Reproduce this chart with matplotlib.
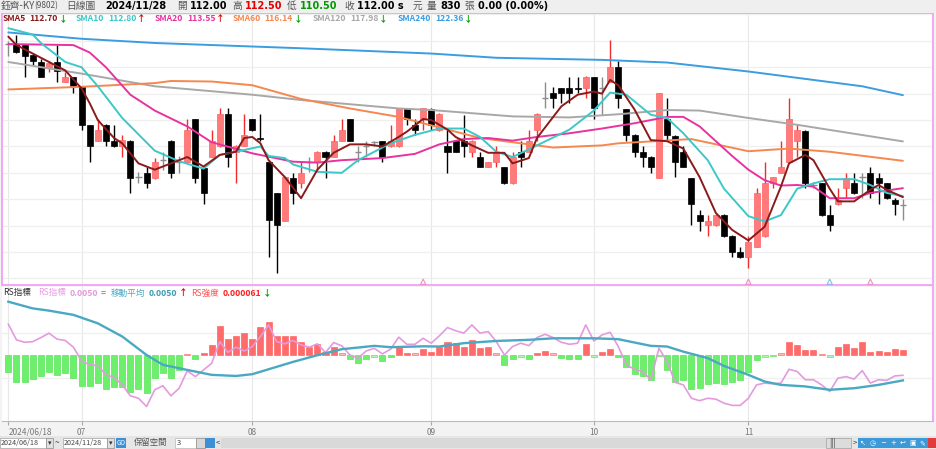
import numpy as np
import matplotlib
matplotlib.use('Agg')
import matplotlib.pyplot as plt
from matplotlib.patches import Rectangle

plt.rcParams['font.family'] = ['Noto Sans CJK TC', 'DejaVu Sans']
LATIN = ['DejaVu Sans', 'Noto Sans CJK TC']

W, H = 936, 449

# trading-day index of each month start
tick_idx = [0, 9, 30, 52, 72, 91]
tick_labels = ['2024/06/18', '07', '08', '09', '10', '11']

opens = [127.17, 127.17, 127.11, 126.16, 125.53, 124.90, 125.53, 123.57, 124.05, 123.16,
         119.54, 118.05, 119.54, 118.05, 117.55, 118.05, 114.64, 115.02, 114.49, 116.22,
         118.05, 116.06, 116.06, 120.07, 115.43, 116.54, 117.55, 120.58, 117.01, 117.55,
         120.07, 118.27, 116.06, 113.07, 110.48, 114.49, 114.01, 116.06, 116.06, 117.01,
         116.54, 118.05, 120.07, 117.01, 117.55, 117.96, 117.99, 117.55, 117.55, 121.11,
         119.54, 120.07, 121.02, 119.06, 117.55, 118.05, 118.05, 117.01, 116.54, 115.59,
         116.06, 115.59, 114.01, 117.01, 117.01, 119.06, 122.06, 122.60, 123.07, 123.07,
         123.00, 123.00, 124.11, 123.07, 123.64, 125.06, 121.02, 118.59, 117.01, 116.54,
         114.49, 120.07, 118.53, 117.01, 114.49, 111.02, 110.07, 110.07, 111.02, 109.03,
         107.54, 107.00, 108.01, 109.03, 114.01, 115.02, 116.06, 118.05, 119.00, 113.85,
         114.01, 111.02, 112.06, 113.54, 114.01, 114.58, 115.02, 114.49, 114.01, 112.44,
         112.00]
highs = [127.52, 128.06, 127.17, 126.32, 125.75, 125.63, 127.11, 124.59, 124.11, 123.23,
         119.54, 120.07, 119.60, 119.54, 118.59, 118.12, 115.12, 115.59, 116.38, 117.01,
         118.12, 116.60, 120.07, 120.07, 115.43, 119.06, 121.11, 121.11, 117.61, 120.58,
         120.14, 120.58, 116.06, 113.07, 114.58, 115.02, 116.06, 116.54, 117.07, 117.07,
         118.59, 120.07, 120.07, 117.55, 118.05, 118.05, 118.05, 119.54, 121.11, 121.11,
         120.07, 121.11, 121.11, 120.64, 119.06, 118.05, 120.48, 118.12, 117.01, 116.06,
         117.55, 115.59, 117.01, 118.05, 119.06, 120.64, 123.64, 123.16, 123.07, 124.11,
         124.11, 124.18, 124.11, 124.11, 127.59, 125.63, 121.08, 118.65, 117.55, 116.60,
         122.60, 122.06, 118.59, 117.55, 114.49, 111.49, 111.02, 111.08, 111.08, 109.09,
         108.01, 109.03, 113.54, 116.06, 114.64, 118.05, 122.06, 119.54, 119.06, 114.17,
         114.01, 111.96, 113.54, 115.02, 115.02, 115.02, 115.59, 115.02, 114.01, 112.59,
         112.50]
lows = [126.07, 126.32, 124.11, 125.22, 124.05, 124.59, 123.57, 123.57, 122.60, 119.06,
        116.06, 118.05, 117.55, 117.49, 116.54, 113.07, 114.01, 113.54, 114.42, 115.27,
        114.49, 115.02, 116.06, 114.01, 112.06, 116.48, 117.49, 115.59, 114.01, 117.55,
        119.00, 118.05, 107.00, 105.48, 110.48, 112.06, 113.54, 115.12, 115.12, 114.49,
        116.48, 118.05, 117.99, 116.06, 116.54, 117.55, 116.06, 117.49, 117.49, 119.54,
        118.59, 119.06, 119.06, 119.00, 115.02, 116.95, 116.54, 116.54, 115.53, 115.53,
        115.59, 113.95, 113.95, 115.59, 116.95, 118.05, 121.11, 121.11, 121.59, 121.59,
        122.53, 122.06, 120.07, 120.48, 123.57, 121.11, 118.05, 116.54, 115.59, 115.02,
        114.49, 118.05, 114.58, 115.53, 110.07, 109.53, 109.03, 110.01, 108.96, 107.00,
        106.94, 105.96, 107.95, 108.96, 113.54, 114.96, 116.00, 116.54, 113.54, 113.54,
        110.95, 109.53, 111.96, 112.59, 113.00, 112.59, 112.59, 112.06, 112.53, 111.02,
        110.50]
closes = [127.17, 126.42, 126.07, 125.60, 124.11, 125.44, 124.68, 124.11, 123.26, 119.54,
          117.55, 119.06, 118.05, 117.55, 118.12, 114.49, 114.64, 114.01, 116.06, 116.22,
          115.02, 116.06, 119.06, 114.49, 113.07, 118.05, 120.58, 116.54, 117.55, 118.59,
          119.06, 118.21, 110.54, 110.07, 114.58, 113.07, 115.02, 116.06, 117.01, 116.54,
          118.05, 119.06, 118.05, 117.01, 117.55, 117.96, 116.54, 118.05, 121.11, 120.07,
          119.06, 121.11, 119.54, 120.58, 117.01, 117.01, 117.55, 118.05, 115.59, 116.06,
          117.01, 114.01, 116.54, 116.54, 118.05, 120.58, 122.06, 122.06, 122.60, 122.60,
          122.94, 124.11, 121.11, 123.07, 125.06, 122.06, 118.59, 117.01, 116.54, 115.59,
          122.60, 118.59, 116.06, 115.59, 112.06, 110.48, 110.48, 111.02, 109.03, 107.54,
          107.00, 108.49, 113.07, 114.01, 114.58, 115.59, 120.07, 119.06, 114.01, 113.85,
          111.02, 110.07, 112.44, 114.49, 113.07, 114.58, 113.07, 114.01, 112.59, 112.06,
          112.00]

# moving averages (candle index, price)
sma5_idx = [0, 1, 3, 5, 7, 9, 10, 11, 13, 14, 16, 18, 21, 22, 24, 26, 28, 29, 30, 31,
            32, 34, 36, 38, 40, 42, 44, 46, 48, 49, 51, 52, 54, 55, 57, 59, 61, 62, 64, 65,
            68, 70, 72, 73, 74, 75, 77, 79, 81, 83, 85, 87, 89, 91, 93, 95, 96, 98, 99, 101,
            102, 104, 106, 107, 108, 110]
sma5 = [127.9, 127.1, 126.3, 125.5, 124.7, 123.0, 121.6, 120.0, 118.3, 117.8,
        115.9, 115.3, 116.2, 116.5, 115.6, 116.7, 117.0, 118.3, 118.4, 117.8,
        116.2, 114.6, 112.6, 115.3, 116.9, 117.7, 117.7, 117.5, 118.4, 118.9,
        120.1, 120.0, 119.1, 118.4, 117.6, 116.9, 116.9, 115.9, 116.4, 118.3,
        121.3, 122.4, 122.7, 122.5, 123.8, 123.3, 121.0, 118.1, 118.0, 117.3,
        114.6, 111.2, 109.6, 108.6, 109.9, 113.7, 115.9, 116.7, 116.2, 113.5,
        112.3, 112.3, 113.4, 113.85, 113.4, 112.7]
sma10_idx = [0, 3, 4, 7, 9, 11, 14, 18, 21, 24, 26, 28, 31, 32, 34, 35, 38, 41, 43, 45,
             47, 50, 53, 56, 58, 60, 62, 65, 69, 72, 74, 76, 79, 81, 83, 86, 88, 91, 93, 95,
             97, 99, 101, 104, 106, 108, 110]
sma10 = [128.7, 128.1, 127.3, 125.5, 125.0, 123.2, 120.2, 117.1, 116.1, 115.4,
         116.7, 117.0, 117.5, 116.6, 116.4, 115.8, 115.1, 115.0, 116.2, 117.0,
         117.8, 118.6, 119.2, 119.2, 118.4, 117.0, 116.5, 117.6, 119.1, 120.9,
         122.6, 122.4, 120.5, 120.2, 118.75, 116.2, 113.5, 110.9, 110.4, 111.0,
         113.5, 114.0, 114.4, 114.4, 113.85, 113.1, 112.8]
sma20_idx = [0, 8, 10, 12, 15, 18, 22, 25, 30, 35, 38, 41, 46, 50, 53, 56, 59, 62, 65, 69,
             73, 77, 81, 83, 85, 87, 89, 91, 93, 95, 97, 99, 101, 104, 106, 110]
sma20 = [127.2, 127.1, 126.4, 125.0, 122.4, 120.9, 119.4, 117.9, 116.85, 116.06,
         115.97, 116.2, 116.4, 116.8, 117.7, 118.2, 118.3, 118.05, 118.4, 118.75,
         119.2, 119.7, 120.3, 120.3, 119.4, 118.0, 116.6, 115.3, 114.3, 113.8,
         113.85, 113.7, 112.6, 112.6, 113.1, 113.55]
sma60_idx = [0, 9, 18, 20, 25, 30, 36, 38, 42, 48, 54, 58, 63, 67, 73, 75, 84, 91, 96, 101, 110]
sma60 = [122.9, 123.15, 123.5, 123.7, 123.65, 123.3, 122.0, 121.7, 121.1, 120.3, 119.1,
         118.3, 117.8, 117.4, 117.6, 117.8, 118.2, 117.05, 117.3, 117.0, 116.14]
sma120_idx = [0, 9, 18, 30, 36, 48, 52, 62, 69, 75, 81, 85, 91, 97, 110]
sma120 = [125.5, 124.4, 123.2, 122.4, 121.9, 121.1, 120.95, 120.35, 120.25, 120.55,
          120.95, 120.9, 120.2, 119.55, 117.98]
sma240_idx = [0, 9, 18, 36, 52, 60, 73, 81, 91, 97, 105, 110]
sma240 = [128.3, 127.7, 127.3, 126.8, 126.3, 125.9, 125.7, 125.45, 124.6, 124.0, 123.2, 122.36]

ma_names = ['SMA5', 'SMA10', 'SMA20', 'SMA60', 'SMA120', 'SMA240']
ma_last = ['112.70', '112.80', '113.55', '116.14', '117.98', '122.36']
ma_up = [False, True, True, False, False, False]
ma_colors = ['#8b1a1a', '#3cc8c8', '#e8339f', '#f5874f', '#a8a8a8', '#3b9de0']

# lower panel (arbitrary units, gridlines at +-1)
rs_line = [1.39, 0.69, 0.58, 0.61, 0.79, 0.99, 0.72, 0.66, 0.36, -0.25,
           -0.43, -0.46, -0.88, -0.99, -1.33, -1.82, -1.93, -2.30, -1.55, -1.37,
           -1.82, -1.48, -0.70, -0.96, -0.66, -0.36, 0.61, 0.13, 0.36, 0.19,
           0.39, 0.84, 1.36, 0.61, 0.51, 0.66, 0.46, 0.36, 0.51, 0.12,
           0.57, 0.42, 0.01, -0.13, 0.19, 0.31, 0.06, 0.27, 0.81, 0.49,
           0.49, 0.76, 0.54, 0.87, 1.24, 1.10, 0.99, 1.36, 0.99, 1.06,
           0.61, 0.01, 0.39, 0.54, 0.43, 0.79, 0.94, 0.79, 0.58, 0.49,
           0.54, 1.36, 0.64, 0.91, 1.03, 0.39, -0.43, -0.63, -0.73, -1.10,
           0.31, -0.28, -1.22, -1.33, -1.93, -2.04, -1.93, -1.97, -2.15, -2.25,
           -2.25, -1.93, -1.33, -1.25, -1.28, -1.25, -0.63, -0.73, -1.10, -1.10,
           -1.33, -1.63, -1.03, -0.96, -1.07, -0.69, -1.25, -1.10, -1.13, -0.93,
           -0.90]
rs_ma_idx = [0, 3, 5, 8, 11, 14, 17, 19, 22, 25, 28, 30, 32, 35, 38, 41, 45, 47, 51, 53,
             56, 60, 64, 67, 72, 75, 79, 81, 83, 86, 88, 91, 93, 95, 98, 101, 104, 107, 110]
rs_ma = [2.40, 2.10, 2.0, 1.81, 1.43, 0.84, 0.01, -0.43, -0.66, -0.88,
         -0.93, -0.85, -0.63, -0.30, 0.0, 0.27, 0.42, 0.36, 0.40, 0.39,
         0.54, 0.64, 0.69, 0.76, 0.76, 0.72, 0.42, 0.39, 0.16, -0.13,
         -0.48, -0.88, -1.18, -1.33, -1.40, -1.55, -1.48, -1.33, -1.13]
rs_bar = [-0.73, -1.22, -1.18, -1.07, -0.93, -0.73, -0.88, -0.81, -1.03, -1.37,
          -1.37, -1.25, -1.51, -1.43, -1.43, -1.67, -1.52, -1.70, -1.03, -0.78,
          -1.03, -0.66, 0.06, -0.16, 0.12, 0.46, 1.31, 0.72, 0.84, 0.99,
          0.72, 1.25, 1.51, 0.84, 0.84, 0.84, 0.58, 0.37, 0.51, 0.16,
          0.36, 0.09, -0.16, -0.33, -0.16, -0.06, -0.24, -0.10, 0.39, 0.12,
          0.09, 0.27, 0.13, 0.36, 0.61, 0.54, 0.39, 0.69, 0.31, 0.39,
          0.09, -0.45, -0.18, -0.06, -0.16, 0.12, 0.19, 0.09, -0.13, -0.18,
          -0.18, 0.49, -0.06, 0.15, 0.27, -0.10, -0.55, -0.84, -0.93, -1.13,
          -0.05, -0.66, -1.22, -1.13, -1.52, -1.49, -1.28, -1.25, -1.28, -1.19,
          -1.10, -0.73, -0.21, -0.07, -0.04, 0.09, 0.61, 0.46, 0.24, 0.24,
          0.06, -0.06, 0.39, 0.49, 0.34, 0.58, 0.16, 0.18, 0.13, 0.27,
          0.22]

signal_idx = [51, 91, 101, 106]
signal_colors = ['#f08cc8', '#f08cc8', '#8cb8e8', '#f08cc8']

fig = plt.figure(figsize=(W / 100, H / 100), dpi=100, facecolor='#f3f3f3')


def box(x0, y0, x1, y1):
    return [x0 / W, 1 - y1 / H, (x1 - x0) / W, (y1 - y0) / H]


def rect(x0, y0, x1, y1, fc, ec='none', lw=0.6):
    fig.add_artist(Rectangle((x0 / W, 1 - y1 / H), (x1 - x0) / W, (y1 - y0) / H,
                             transform=fig.transFigure, facecolor=fc, edgecolor=ec, lw=lw))


def ftext(x, y, s, **kw):
    kw.setdefault('va', 'center')
    return fig.text(x / W, 1 - y / H, s, **kw)


def chain(x, y, parts, size):
    t = ftext(x, y, parts[0][0], color=parts[0][1], fontweight=parts[0][2], fontsize=size)
    for s, col, wt, gap in parts[1:]:
        t = fig.add_artist(matplotlib.text.Annotation(
            s, xy=(1, 0.5), xycoords=t, xytext=(gap, 0), textcoords='offset points',
            va='center', ha='left', color=col, fontweight=wt, fontsize=size))
    return t


# header and bottom strips
rect(0, 0, W, 12.5, '#efefef')
rect(0, 436, W, H, '#e6e6e6')

ax = fig.add_axes(box(2, 13, 933, 285))
ax2 = fig.add_axes(box(2, 287, 933, 421), sharex=ax)

x = np.arange(len(closes))
o, h, l, c = map(np.array, (opens, highs, lows, closes))
up, dn, fl = c > o, c < o, c == o
wick = np.where(up, '#f02c2c', np.where(dn, '#000000', '#8c8c8c'))

for a in (ax, ax2):
    a.set_facecolor('white')
    for t in tick_idx:
        a.axvline(t, color='#e8e8e8', lw=0.8, zorder=0)

for p in np.arange(105, 130.1, 2.5):
    ax.axhline(p, color='#efefef', lw=0.9, zorder=0)

ax.vlines(x, l, h, colors=wick, lw=1.0, zorder=2)
ax.bar(x[up], (c - o)[up], bottom=o[up], width=0.74, color='#ff7b7b',
       edgecolor='#ff6262', lw=0.5, zorder=3)
ax.bar(x[dn], (o - c)[dn], bottom=c[dn], width=0.74, color='black',
       edgecolor='black', lw=0.5, zorder=3)
ax.hlines(c[fl], x[fl] - 0.4, x[fl] + 0.4, colors='#8c8c8c', lw=1.0, zorder=3)

ma_series = [(sma240_idx, sma240), (sma120_idx, sma120), (sma60_idx, sma60),
             (sma20_idx, sma20), (sma10_idx, sma10), (sma5_idx, sma5)]
for (idx, vals), col in zip(ma_series, ma_colors[::-1]):
    ax.plot(idx, vals, color=col, lw=1.4, zorder=4, solid_capstyle='round')

ax.scatter(signal_idx, [0.012] * len(signal_idx), marker='^', s=14,
           facecolors='none', edgecolors=signal_colors, lw=0.8,
           transform=ax.get_xaxis_transform(), zorder=5, clip_on=False)

ax.set_xlim(-0.78, 113.7)
ax.set_ylim(104.38, 130.14)
ax.set_yticks([])
ax.tick_params(axis='x', bottom=False, labelbottom=False)
for s in ax.spines.values():
    s.set_color('#f2a6f2')
    s.set_linewidth(1.4)

# lower panel
for v in (-1, 1):
    ax2.axhline(v, color='#efefef', lw=0.9, zorder=0)
bar = np.array(rs_bar)
bar_fc = np.where(bar >= 0, np.where(abs(bar) < 0.1, '#ffbcbc', '#ff6b6b'),
                  np.where(abs(bar) < 0.1, '#b8f5b8', '#6cf06c'))
bar_ec = np.where(bar >= 0, '#ff5555', '#44dd44')
ax2.bar(x, bar, width=0.74, color=bar_fc, edgecolor=bar_ec, lw=0.4, zorder=2)
ax2.plot(x, rs_line, color='#e49ade', lw=1.2, zorder=3)
ax2.plot(rs_ma_idx, rs_ma, color='#4aa9c2', lw=1.7, zorder=4)
ax2.set_ylim(-2.95, 3.06)
ax2.set_yticks([])
ax2.set_xticks(tick_idx)
ax2.set_xticklabels(tick_labels, fontsize=6, color='#777777')
ax2.get_xticklabels()[0].set_ha('left')
ax2.tick_params(axis='x', length=3, color='#aaaaaa', pad=2)
ax2.spines['top'].set_visible(False)
ax2.spines['left'].set_visible(False)
ax2.spines['right'].set_color('#f2a6f2')
ax2.spines['right'].set_linewidth(1.4)
ax2.spines['bottom'].set_color('#bbbbbb')
ax2.set_xlim(-0.78, 113.7)

# header line
hs = 7
ftext(1, 6, '鈺齊-KY', color='#555555', fontsize=hs)
ftext(34, 6, '(9802)', color='#555555', fontsize=6)
ftext(66, 6, '日線圖', color='#555555', fontsize=hs)
ftext(105, 6, '2024/11/28', color='black', fontsize=hs, fontweight='bold', family=LATIN)
ftext(177, 6, '開', color='#555555', fontsize=hs)
ftext(190, 6, '112.00', color='black', fontsize=hs, fontweight='bold', family=LATIN)
ftext(232, 6, '高', color='#555555', fontsize=hs)
ftext(245, 6, '112.50', color='#e00000', fontsize=hs, fontweight='bold', family=LATIN)
ftext(287, 6, '低', color='#555555', fontsize=hs)
ftext(300, 6, '110.50', color='#009a00', fontsize=hs, fontweight='bold', family=LATIN)
ftext(344, 6, '收', color='#555555', fontsize=hs)
ftext(357, 6, '112.00 s', color='black', fontsize=hs, fontweight='bold', family=LATIN)
ftext(413, 6, '元', color='#555555', fontsize=hs)
ftext(427, 6, '量', color='#555555', fontsize=hs)
ftext(440, 6, '830', color='black', fontsize=hs, fontweight='bold', family=LATIN)
ftext(464, 6, '張', color='#555555', fontsize=hs)
ftext(478, 6, '0.00 (0.00%)', color='black', fontsize=hs, fontweight='bold', family=LATIN)

# moving average legend
leg_x = [3, 76, 155, 233, 313, 398]
for lx, name, val, isup, col in zip(leg_x, ma_names, ma_last, ma_up, ma_colors):
    chain(lx, 18.5, [(name, col, 'bold'), (val, col, 'bold', 2.5),
                     ('↑' if isup else '↓', '#e00000' if isup else '#00a000', 'bold', 0.5)], 6.2)

chain(3, 293, [('RS指標', '#333333', 'normal')], 6.2)
chain(38, 293, [('RS指標', '#eaa0e6', 'normal'), ('0.0050', '#e49ade', 'bold', 2.5),
                ('=', '#999999', 'bold', 2)], 6.2)
chain(111, 293, [('移動平均', '#4aa9c2', 'normal'), ('0.0050', '#3b9ab5', 'bold', 2.5),
                 ('↑', '#e00000', 'bold', 1)], 6.2)
chain(191, 293, [('RS強度', '#ff5050', 'normal'), ('0.000061', '#ff2020', 'bold', 2.5),
                 ('↓', '#00a000', 'bold', 1)], 6.2)

# bottom control strip
rect(0, 438, 46, 448, 'white', '#b0b0b0')
ftext(1, 443, '2024/06/18', fontsize=5.2, color='#444444')
rect(46, 438, 53, 448, '#e0e0e0', '#999999')
ftext(47.5, 443, '▾', fontsize=5, color='#333333')
ftext(55, 443, '~', fontsize=6, color='#444444')
rect(63, 438, 107, 448, 'white', '#b0b0b0')
ftext(64, 443, '2024/11/28', fontsize=5.2, color='#444444')
rect(107, 438, 114, 448, '#e0e0e0', '#999999')
ftext(108.5, 443, '▾', fontsize=5, color='#333333')
rect(116, 438, 126, 448, '#3d8fd6')
ftext(117, 443, 'GO', fontsize=4.5, color='white')
ftext(134, 443, '保留空間', fontsize=6, color='#555555')
rect(175, 438, 196, 448, 'white', '#c0c0c0')
ftext(177, 443, '3', fontsize=5.5, color='#444444')
rect(196, 438, 205, 448, '#d8d8d8', '#999999')
rect(205, 438, 215, 448, '#3d8fd6')
ftext(216, 443, '<', fontsize=5.5, color='#333333')
rect(221, 438, 826, 448, '#d9d9d9')
rect(826, 438, 851, 448, '#dcdcdc', '#aaaaaa')
ftext(829, 443, '|||', fontsize=6, color='#333333')
ftext(853, 443, '>', fontsize=5.5, color='#333333')
icon_x = [858, 868, 878, 888, 898, 908, 918]
icon_s = ['↖', '◷', '−', '+', '↩', '▣', '✎']
for ix, s in zip(icon_x, icon_s):
    rect(ix, 438, ix + 9.5, 448, '#3d9ad8')
    ftext(ix + 4.75, 443, s, fontsize=5, color='white', ha='center',
          family=['DejaVu Sans'])
rect(928, 438, 936, 448, '#e23c3c')

fig.savefig('out.png', dpi=100, facecolor=fig.get_facecolor())
